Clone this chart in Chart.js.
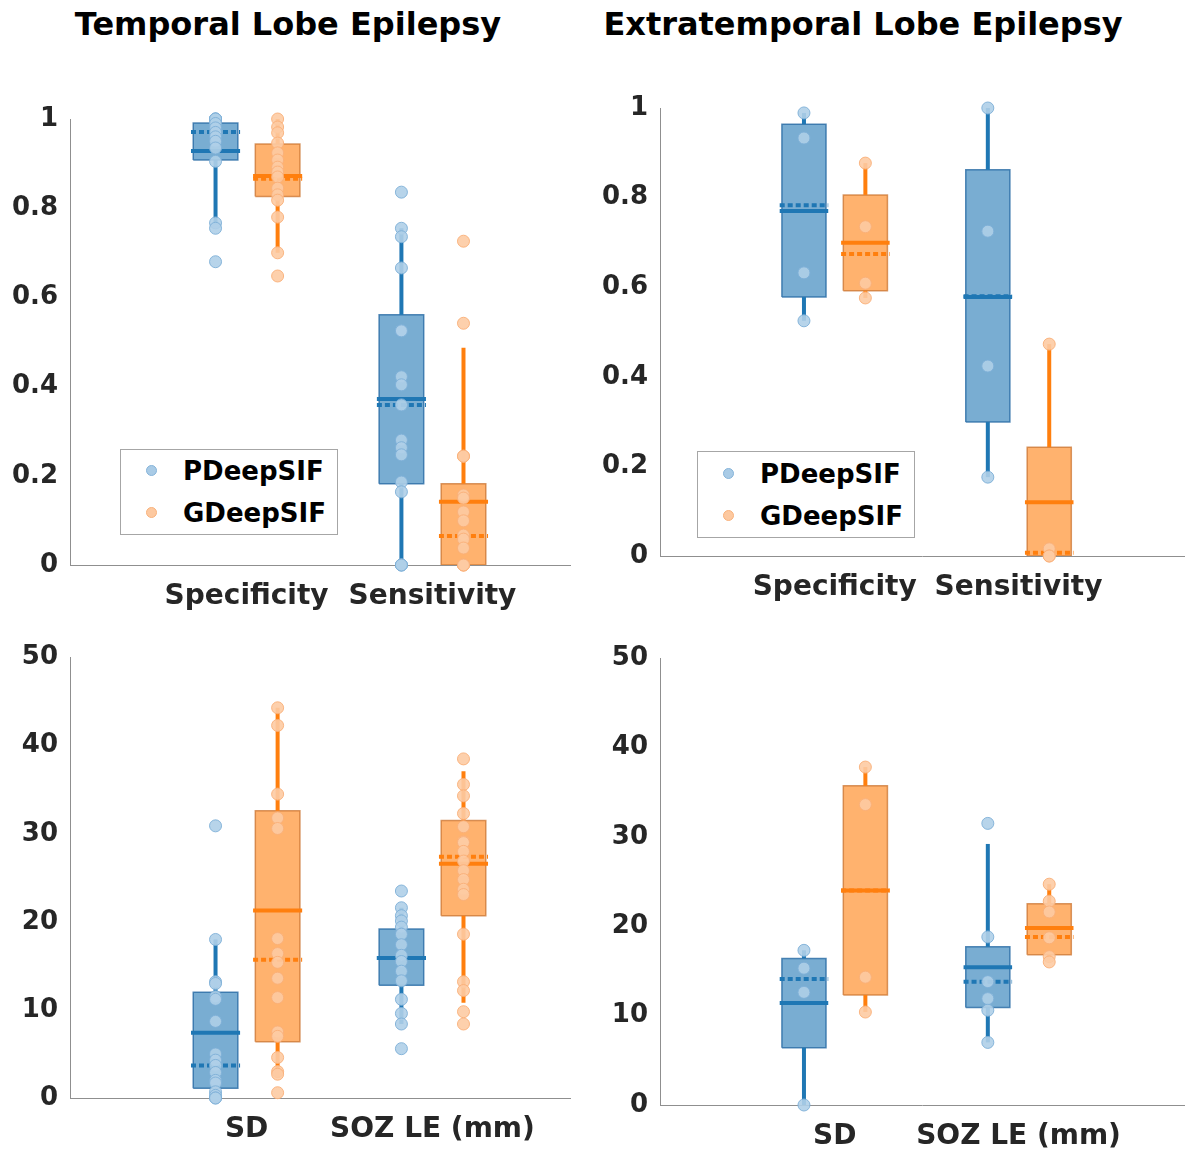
<!DOCTYPE html>
<html lang="en">
<head>
    <meta charset="UTF-8">
    <title>PDeepSIF vs GDeepSIF - TLE / ETLE</title>
    <script src="https://cdn.jsdelivr.net/npm/chart.js"></script>
    <style>
        body {
            margin: 0;
            background: #fff;
            font-family: 'DejaVu Sans', sans-serif;
        }
        .page {
            position: relative;
            width: 1191px;
            height: 1154px;
            overflow: hidden;
        }
        .page canvas {
            position: absolute;
        }
        .title {
            position: absolute;
            top: 5px;
            font-weight: bold;
            font-size: 32px;
            color: #000;
            white-space: nowrap;
            transform: translateX(-50%);
        }
        .legend {
            position: absolute;
            background: #fff;
            border: 1px solid #a6a6a6;
            box-sizing: border-box;
        }
        .legend .row {
            position: absolute;
            left: 62px;
            font-weight: bold;
            font-size: 26px;
            color: #000;
            line-height: 30px;
        }
        .legend .dot {
            position: absolute;
            left: -37px;
            top: 9px;
            width: 11px;
            height: 11px;
            border-radius: 50%;
            box-sizing: border-box;
        }
    </style>
</head>
<body>
<div class="page">
    <div class="title" style="left:288px">Temporal Lobe Epilepsy</div>
    <div class="title" style="left:863px">Extratemporal Lobe Epilepsy</div>

    <canvas id="tleRate" width="595" height="540" style="left:0; top:90px"></canvas>
    <canvas id="etleRate" width="596" height="550" style="left:595px; top:80px"></canvas>
    <canvas id="tleDist" width="595" height="524" style="left:0; top:630px"></canvas>
    <canvas id="etleDist" width="596" height="524" style="left:595px; top:630px"></canvas>

    <div class="legend" style="left:120px; top:449px; width:218px; height:86px">
        <div class="row" style="top:6px"><span class="dot" style="background:#a9cbe6; border:1px solid #86b4da"></span>PDeepSIF</div>
        <div class="row" style="top:48px"><span class="dot" style="background:#fdc9a0; border:1px solid #f9b27c"></span>GDeepSIF</div>
    </div>
    <div class="legend" style="left:697px; top:451px; width:218px; height:87px">
        <div class="row" style="top:7px"><span class="dot" style="background:#a9cbe6; border:1px solid #86b4da"></span>PDeepSIF</div>
        <div class="row" style="top:49px"><span class="dot" style="background:#fdc9a0; border:1px solid #f9b27c"></span>GDeepSIF</div>
    </div>
</div>

<script>
    // ---- data ----
    const rateCats = ['Specificity', 'Sensitivity'];
    const distCats = ['SD', 'SOZ LE (mm)'];
    const methods = ['PDeepSIF', 'GDeepSIF'];

    // box per category: [lower whisker, q1, q3, upper whisker]
    // solid line = mean, dotted line = median

    // Temporal lobe epilepsy - specificity / sensitivity
    const tleRateBoxP = [[0.762, 0.908, 0.991, 1.0], [0, 0.182, 0.561, 0.755]];
    const tleRateMeanP = [0.928, 0.372];
    const tleRateMedP = [0.971, 0.359];
    const tleRatePtsP = [
        [1, 1, 1, 1, 0.99, 0.98, 0.97, 0.96, 0.95, 0.935, 0.905, 0.767, 0.755, 0.68],
        [0.836, 0.755, 0.736, 0.666, 0.525, 0.525, 0.422, 0.404, 0.359, 0.28, 0.263, 0.247, 0.186, 0.164, 0, 0, 0]
    ];
    const tleRateBoxG = [[0.70, 0.826, 0.944, 1.0], [0, 0, 0.182, 0.487]];
    const tleRateMeanG = [0.872, 0.142];
    const tleRateMedG = [0.866, 0.065];
    const tleRatePtsG = [
        [1, 0.982, 0.969, 0.946, 0.924, 0.908, 0.892, 0.881, 0.87, 0.845, 0.83, 0.818, 0.78, 0.70, 0.648],
        [0.726, 0.542, 0.244, 0.244, 0.157, 0.15, 0.119, 0.099, 0.067, 0.058, 0.038, 0, 0, 0]
    ];

    // Extratemporal lobe epilepsy - specificity / sensitivity
    const etleRateBoxP = [[0.525, 0.578, 0.964, 0.989], [0.176, 0.299, 0.862, 1.0]];
    const etleRateMeanP = [0.770, 0.578];
    const etleRateMedP = [0.783, 0.580];
    const etleRatePtsP = [[0.989, 0.933, 0.632, 0.525], [1.0, 0.725, 0.424, 0.176]];
    const etleRateBoxG = [[0.576, 0.592, 0.806, 0.877], [0, 0, 0.243, 0.473]];
    const etleRateMeanG = [0.699, 0.12];
    const etleRateMedG = [0.674, 0.007];
    const etleRatePtsG = [[0.877, 0.735, 0.609, 0.576], [0.473, 0.016, 0, 0]];

    // Temporal lobe epilepsy - SD / SOZ localization error
    const tleDistBoxP = [[0, 1.1, 12.0, 18.0], [8.4, 12.8, 19.2, 21.6]];
    const tleDistMeanP = [7.4, 15.9];
    const tleDistMedP = [3.7, 15.9];
    const tleDistPtsP = [
        [30.9, 18.0, 13.2, 13.0, 11.5, 11.2, 8.7, 5.0, 4.3, 3.7, 2.9, 2.0, 1.7, 0.7, 0.3, 0, 0],
        [23.5, 21.6, 20.7, 20.1, 19.4, 18.6, 17.4, 16.2, 15.5, 14.4, 13.3, 11.2, 9.6, 8.4, 5.6]
    ];
    const tleDistBoxG = [[2.3, 6.4, 32.6, 44.3], [10.8, 20.7, 31.5, 37.1]];
    const tleDistMeanG = [21.3, 26.6];
    const tleDistMedG = [15.7, 27.4];
    const tleDistPtsG = [
        [44.3, 42.3, 34.5, 31.8, 30.6, 18.1, 16.4, 15.4, 13.6, 11.4, 7.5, 7.0, 4.6, 3.0, 2.7, 0.6],
        [38.5, 35.6, 34.3, 32.3, 30.8, 29.1, 29.0, 28.0, 26.9, 25.8, 24.8, 23.7, 23.1, 18.6, 13.2, 12.2, 9.8, 8.4]
    ];

    // Extratemporal lobe epilepsy - SD / SOZ localization error
    const etleDistBoxP = [[0, 6.4, 16.4, 17.3], [7.0, 10.9, 17.7, 29.2]];
    const etleDistMeanP = [11.4, 15.4];
    const etleDistMedP = [14.1, 13.8];
    const etleDistPtsP = [[17.3, 15.3, 12.6, 0], [31.5, 18.8, 13.8, 11.9, 10.6, 7.0]];
    const etleDistBoxG = [[10.4, 12.3, 35.7, 37.8], [16.2, 16.8, 22.5, 24.7]];
    const etleDistMeanG = [24.0, 19.8];
    const etleDistMedG = [24.0, 18.8];
    const etleDistPtsG = [[37.8, 33.6, 14.3, 10.4], [24.7, 22.8, 21.6, 18.7, 16.6, 16.0]];

    // ---- styling ----
    const palette = [
        { line: '#1f77b4', fill: 'rgba(31,119,180,0.6)', edge: 'rgba(31,100,160,0.75)', dot: 'rgba(175,207,232,0.9)', dotEdge: 'rgba(125,175,215,0.9)' },
        { line: '#ff7f0e', fill: 'rgba(255,127,14,0.6)', edge: 'rgba(200,110,40,0.7)', dot: 'rgba(253,203,163,0.9)', dotEdge: 'rgba(249,175,120,0.9)' }
    ];
    const OFFSET = 0.167;   // dodge of each method from the category centre
    const HALF = 0.12;      // half box width (x units)
    const tickFont = { family: 'DejaVu Sans', size: 26, weight: 'bold' };
    const catFont = { family: 'DejaVu Sans', size: 28, weight: 'bold' };
    const axisGray = '#8f8f8f';

    function methodDatasets(m, box, mean, med, pts) {
        const c = palette[m];
        const out = [];
        box.forEach((b, i) => {
            const x = (i + 1) + (m === 0 ? -OFFSET : OFFSET);
            const [lo, q1, q3, hi] = b;
            out.push({
                data: [{ x: x - HALF, y: q1 }, { x: x + HALF, y: q1 }, { x: x + HALF, y: q3 }, { x: x - HALF, y: q3 }, { x: x - HALF, y: q1 }],
                borderColor: c.edge, borderWidth: 1.5, backgroundColor: c.fill, fill: 'shape',
                pointRadius: 0, tension: 0, order: 3
            });
            if (lo < q1) out.push({ data: [{ x, y: lo }, { x, y: q1 }], borderColor: c.line, borderWidth: 4, pointRadius: 0, order: 2 });
            if (hi > q3) out.push({ data: [{ x, y: q3 }, { x, y: hi }], borderColor: c.line, borderWidth: 4, pointRadius: 0, order: 2 });
            out.push({
                data: [{ x: x - HALF * 1.1, y: mean[i] }, { x: x + HALF * 1.1, y: mean[i] }],
                borderColor: c.line, borderWidth: 4, pointRadius: 0, order: 1
            });
            out.push({
                data: [{ x: x - HALF * 1.1, y: med[i] }, { x: x + HALF * 1.1, y: med[i] }],
                borderColor: c.line, borderWidth: 4, borderDash: [5, 3], pointRadius: 0, order: 1
            });
            out.push({
                label: methods[m],
                data: pts[i].map(v => ({ x, y: v })),
                showLine: false, pointRadius: 6, pointBorderWidth: 1,
                pointBackgroundColor: c.dot, pointBorderColor: c.dotEdge,
                clip: false, order: 0
            });
        });
        return out;
    }

    function makePanel(id, cats, yMax, yStep, xMax, geom, P, G) {
        const datasets = [
            ...methodDatasets(0, P.box, P.mean, P.med, P.pts),
            ...methodDatasets(1, G.box, G.mean, G.med, G.pts)
        ];
        new Chart(document.getElementById(id), {
            type: 'line',
            data: { datasets },
            options: {
                responsive: false,
                animation: false,
                events: [],
                layout: { padding: { top: geom.top, right: geom.right, left: 0, bottom: 0 } },
                plugins: { legend: { display: false }, tooltip: { enabled: false } },
                scales: {
                    x: {
                        type: 'linear', min: 0.05, max: xMax,
                        afterBuildTicks: s => { s.ticks = [{ value: 1 }, { value: 2 }]; },
                        afterFit: s => { s.height = geom.xh; },
                        ticks: { font: catFont, color: '#262626', padding: 15, maxRotation: 0, callback: v => cats[v - 1] },
                        grid: { display: false, drawTicks: false },
                        border: { display: true, color: axisGray, width: 1 }
                    },
                    y: {
                        min: 0, max: yMax,
                        afterFit: s => { s.width = geom.yw; },
                        ticks: { stepSize: yStep, font: tickFont, color: '#262626', padding: 12, callback: v => String(+v.toFixed(2)) },
                        grid: { display: false, drawTicks: false },
                        border: { display: true, color: axisGray, width: 1 }
                    }
                }
            }
        });
    }

    makePanel('tleRate', rateCats, 1, 0.2, 2.74, { top: 29, right: 25, xh: 65, yw: 70 },
        { box: tleRateBoxP, mean: tleRateMeanP, med: tleRateMedP, pts: tleRatePtsP },
        { box: tleRateBoxG, mean: tleRateMeanG, med: tleRateMedG, pts: tleRatePtsG });

    makePanel('etleRate', rateCats, 1, 0.2, 2.9, { top: 28, right: 1, xh: 74, yw: 65 },
        { box: etleRateBoxP, mean: etleRateMeanP, med: etleRateMedP, pts: etleRatePtsP },
        { box: etleRateBoxG, mean: etleRateMeanG, med: etleRateMedG, pts: etleRatePtsG });

    makePanel('tleDist', distCats, 50, 10, 2.74, { top: 22, right: 25, xh: 56, yw: 70 },
        { box: tleDistBoxP, mean: tleDistMeanP, med: tleDistMedP, pts: tleDistPtsP },
        { box: tleDistBoxG, mean: tleDistMeanG, med: tleDistMedG, pts: tleDistPtsG });

    makePanel('etleDist', distCats, 50, 10, 2.9, { top: 28, right: 1, xh: 49, yw: 65 },
        { box: etleDistBoxP, mean: etleDistMeanP, med: etleDistMedP, pts: etleDistPtsP },
        { box: etleDistBoxG, mean: etleDistMeanG, med: etleDistMedG, pts: etleDistPtsG });
</script>
</body>
</html>
